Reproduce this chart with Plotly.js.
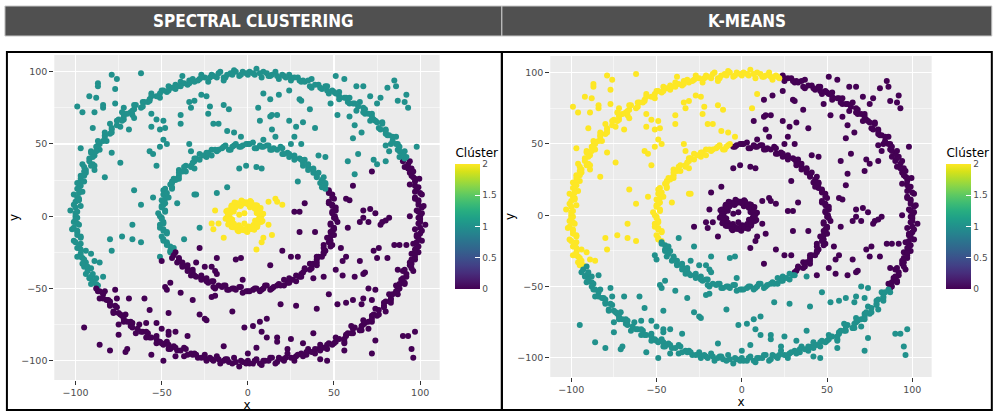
<!DOCTYPE html>
<html>
<head>
<meta charset="utf-8">
<script src="https://cdn.plot.ly/plotly-3.0.1.min.js"></script>
<style>
html,body{margin:0;padding:0;background:#fff;}
#chart{width:994px;height:412px;}
</style>
</head>
<body>
<div id="chart"></div>
<script>
// ---------- DATA ----------
const panelTitles = ["SPECTRAL CLUSTERING", "K-MEANS"];
const legendTitle = "Clúster";
const axisTicks = [-100, -50, 0, 50, 100];
const colorTicks = [0, 0.5, 1, 1.5, 2];
const colorTickText = ["0", "0.5", "1", "1.5", "2"];

// Outer ring (r ~ 100), split in arcs by the two clusterings
const outerArcA = [[87,-51],[86,-48],[91,-47],[89,-44],[92,-42],[90,-38],[96,-38],[94,-34],[94,-32],[97,-30],[95,-26],[99,-25],[98,-22],[96,-19],[101,-17],[98,-14],[100,-12],[97,-9],[103,-6],[100,-4],[99,-1],[101,2],[98,4],[102,7],[99,10],[97,12],[101,15],[97,17],[99,20],[94,22],[99.5,26],[96,27],[94,30],[95,33],[91,34],[94,38],
  [88,-50],[88,-47],[91,-46],[90,-43],[92,-40],[91,-37],[95,-36],[95,-33],[95,-30],[97,-28],[97,-26],[97,-23],[99,-21],[98,-18],[99,-15],[98,-13],[101,-10],[100,-8],[99,-5],[100,-2],[100,0],[99,3],[101,6],[99,8],[99,11],[97,13],[100,16],[98,19],[97,21],[97,24],[97,26],[95,28],[96,31],[93,33],[93,36],[90,38]];
const outerArcB = [[91,40],[88,41],[91,45],[87,46],[87,50],[83,50],[86,55],[82,56],[80,57],[80,60],[76,61],[78,65],[74,66],[71,66],[72,71],[68,71],[68,74],[63,73],[65,79],[61,78],[58,79],[57,82],[53,81],[53,86],[50,86],[47,85],[46,90],[43,88],[41,91],[37,89],[37,95],[33,93],[31,93],[29,96],[25,94],[24,98],
  [92,41],[90,43],[88,45],[88,48],[86,50],[84,52],[84,55],[81,56],[80,59],[77,60],[78,64],[75,65],[73,67],[72,69],[70,71],[67,72],[67,75],[64,76],[62,78],[59,78],[59,82],[56,82],[53,83],[51,85],[49,87],[46,87],[45,90],[42,89],[39,91],[36,90],[35,94],[32,94],[30,94],[27,96],[25,96]];
const outerArcC = [[21,97],[18,95],[16,100],[13,97],[11,99],[8,96],[5,102],[3,99],[0,98],[-3,100],[-5,97],[-8,101],[-10,99],[-13,96],[-16,100],[-18,96],[-21,98],[-23,93],[-27,98],[-28,95],[-31,93],[-34,94],[-35,91],[-39,93],[-41,90],[-42,88],[-46,90],[-47,86],[-50,87],[-51,82],[-56,85],[-57,81],[-58,79],[-61,79],[-62,75],[-66,77],[-67,73],[-67,70],[-72,71],[-72,67],[-75,67],[-74,62],[-80,64],[-79,60],[-80,57],[-83,56],[-82,52],[-87,52],[-87,49],[-86,46],[-91,45],[-89,42],[-92,40],[-90,36],[-96,36],[-94,32],[-94,30],[-97,28],[-95,24],[-99,23],[-98,20],[-96,17],[-101,15],[-98,12],[-100,10],[-97,7],[-103,4],[-100,2],[-99,-1],[-101,-4],[-98,-6],[-102,-9],[-99,-11],[-97,-14],[-101,-17],[-97,-19],[-99,-22],[-94,-24],[-99,-28],[-96,-29],[-94,-32],[-95,-35],
  [22,96],[20,98],[17,97],[14,98],[12,97],[9,100],[7,99],[4,98],[1,100],[-1,99],[-4,98],[-7,100],[-9,98],[-12,98],[-14,96],[-17,99],[-20,97],[-22,96],[-25,96],[-27,96],[-29,94],[-32,95],[-34,92],[-37,92],[-39,90],[-42,91],[-44,89],[-46,87],[-49,87],[-51,85],[-53,83],[-56,83],[-57,80],[-60,79],[-61,76],[-65,77],[-66,74],[-68,72],[-70,71],[-72,69],[-73,66],[-76,66],[-76,63],[-79,61],[-79,58],[-83,58],[-83,55],[-84,52],[-86,50],[-88,48],[-88,45],[-91,44],[-90,41],[-92,38],[-91,35],[-95,34],[-95,31],[-95,28],[-97,26],[-97,24],[-97,21],[-99,19],[-98,16],[-99,13],[-98,11],[-101,8],[-100,6],[-99,3],[-100,0],[-100,-2],[-99,-5],[-101,-8],[-99,-10],[-99,-13],[-97,-15],[-100,-18],[-98,-21],[-97,-23],[-97,-26],[-97,-28],[-95,-30],[-96,-33],[-93,-35]];
const outerArcD = [[-91,-36],[-94,-40],[-91,-42],[-88,-43],[-91,-47],[-87,-48],
  [-93,-38],[-90,-40],[-92,-43],[-90,-45],[-88,-47]];
const outerArcE = [[-87,-52],[-83,-52],[-86,-57],[-82,-58],[-80,-59],[-80,-62],[-76,-63],[-78,-67],[-74,-68],[-71,-68],[-72,-73],[-68,-73],[-68,-76],[-63,-75],[-65,-81],[-61,-80],[-58,-81],[-57,-84],[-53,-83],[-53,-88],[-50,-88],[-47,-87],[-46,-92],[-43,-90],[-41,-93],[-37,-91],[-37,-97],[-33,-95],[-31,-95],[-29,-98],[-25,-96],[-24,-100],[-21,-99],[-18,-97],[-16,-102],[-13,-99],[-11,-101],[-8,-98],[-5,-104],[-3,-101],[0,-100],[3,-102],[5,-99],[8,-103],[10,-100],[13,-98],[16,-102],[18,-98],[21,-100],[23,-95],[27,-100],[28,-97],[31,-95],[34,-96],[35,-92],[39,-95],[41,-92],[42,-89],[46,-92],[47,-88],[50,-88],[51,-84],[56,-87],[57,-83],[58,-81],[61,-81],[62,-77],[66,-79],[67,-75],[67,-72],[72,-73],[72,-69],[75,-69],[74,-64],[80,-66],[79,-62],[80,-59],[83,-58],[82,-54],[87,-54],
  [-88,-50],[-86,-52],[-84,-54],[-84,-57],[-81,-58],[-80,-61],[-77,-62],[-78,-66],[-75,-67],[-73,-69],[-72,-71],[-70,-73],[-67,-74],[-67,-77],[-64,-78],[-62,-80],[-59,-80],[-59,-84],[-56,-84],[-53,-85],[-51,-87],[-49,-89],[-46,-89],[-45,-92],[-42,-91],[-39,-93],[-36,-92],[-35,-96],[-32,-96],[-30,-96],[-27,-98],[-25,-98],[-22,-98],[-20,-100],[-17,-99],[-14,-100],[-12,-99],[-9,-102],[-7,-101],[-4,-100],[-1,-102],[1,-102],[4,-100],[7,-102],[9,-100],[12,-100],[14,-98],[17,-101],[20,-99],[22,-98],[25,-98],[27,-98],[29,-96],[32,-97],[34,-94],[37,-94],[39,-92],[42,-93],[44,-91],[46,-89],[49,-89],[51,-87],[53,-85],[56,-85],[57,-82],[60,-81],[61,-78],[65,-79],[66,-76],[68,-74],[70,-73],[72,-71],[73,-68],[76,-68],[76,-65],[79,-63],[79,-60],[83,-60],[83,-57],[84,-54],[86,-52]];

// Middle ring (r ~ 50)
const midArcA = [[31,-40],[33,-37],[36,-37],[36,-33],[40,-34],[40,-30],[41,-28],[44,-26],[45,-24],[44,-20],[49,-20],[48,-17],[48,-14],[48,-11],[50,-9],[48,-6],[52,-4],[50,-1],[49,2],[51,4],[49,7],[47,9],[50,12],[49,15],[47,17],
  [32,-39],[33,-36],[37,-36],[38,-33],[40,-32],[40,-28],[43,-28],[44,-25],[44,-22],[48,-21],[47,-18],[46,-15],[50,-13],[49,-10],[50,-8],[48,-5],[51,-2],[50.5,0],[49,3],[51,6],[49,8],[47,10],[49,13],[47,16],[47,18]];
const midArcB = [[45,19],[45,22],[42,23],[44,27],[40,28],[38,30],[38,33],[35,34],[32,35],[33,39],[30,40],[27,41],[24,41],[23,44],[20,43],[19,48],[15,47],[13,46],[11,49],[8,48],[5,47],[3,51],[0,50],[-3,49],[-5,48],
  [43,20],[45,23],[43,25],[40,27],[41,30],[38,32],[35,32],[35,36],[32,37],[31,39],[27,39],[27,42],[24,43],[21,43],[20,47],[17,46],[14,46],[12,49],[9,48],[7,49],[4,47],[1,50],[-1,50],[-4,48]];
const midArcC = [[-8,49],[-10,46],[-13,49],[-15,47],[-18,45],[-21,46],[-23,44],[-24,41],[-28,43],[-30,40],[-31,38],[-33,35],[-36,35],[-36,31],[-40,32],[-40,28],[-41,26],[-44,24],[-45,22],[-44,19],[-49,18],[-49,15],[-48,12],[-48,9],[-50,7],[-48,4],[-52,2],[-50,-1],[-49,-4],[-51,-6],[-49,-9],[-47,-11],[-50,-14],[-49,-17],
  [-7,50],[-9,48],[-11,46],[-14,48],[-17,46],[-19,46],[-21,42],[-24,44],[-26,42],[-28,39],[-31,40],[-32,37],[-33,34],[-37,34],[-38,31],[-40,30],[-40,26],[-43,26],[-44,23],[-44,20],[-48,19],[-47,16],[-46,13],[-50,11],[-49,8],[-50,6],[-48,3],[-51,0],[-50,-2],[-49,-5],[-51,-8],[-49,-10],[-47,-12],[-49,-16],[-47,-18]];
const midArcD = [[-47,-19],[-45,-21],[-45,-24],[-47,-20],[-43,-22],[-45,-25]];
const midArcE = [[-42,-25],[-44,-29],[-40,-30],[-38,-32],[-38,-35],[-35,-36],[-32,-37],[-33,-41],[-30,-42],[-27,-43],[-24,-43],[-23,-46],[-20,-45],[-19,-50],[-15,-49],[-13,-48],[-11,-51],[-8,-50],[-5,-49],[-3,-53],[0,-52],[3,-51],[5,-50],[8,-51],[10,-48],[13,-51],[15,-49],[18,-47],[21,-48],[23,-46],[24,-43],[28,-45],[30,-42],
  [-43,-27],[-40,-29],[-41,-32],[-38,-34],[-35,-34],[-35,-38],[-32,-39],[-31,-41],[-27,-41],[-27,-44],[-24,-45],[-21,-45],[-20,-49],[-17,-48],[-14,-48],[-12,-51],[-9,-50],[-7,-51],[-4,-49],[-1,-52],[1,-52],[4,-50],[7,-52],[9,-50],[11,-48],[14,-50],[17,-48],[19,-48],[21,-44],[24,-46],[26,-44],[28,-41],[31,-42]];

// Inner ring (r ~ 10)
const innerRing = [[7,0],[8.9,1.7],[5.1,2.3],[6.9,4.5],[4.9,5],[5.4,7.4],[3.3,7.3],[1.2,6.2],[1.4,10.5],[-0.5,9.4],[-2,9],[-3.7,10.9],[-4.3,7.1],[-6.5,8.9],[-7,6.9],[-9.4,7.4],[-9.3,5.3],[-8.2,3.2],[-12.5,3.4],[-11.4,1.5],[-11,0],[-12.9,-1.7],[-9.1,-2.3],[-10.9,-4.5],[-8.9,-5],[-9.4,-7.4],[-7.3,-7.3],[-5.2,-6.2],[-5.4,-10.5],[-3.5,-9.4],[-2,-9],[-0.3,-10.9],[0.3,-7.1],[2.5,-8.9],[3,-6.9],[5.4,-7.4],[5.3,-5.3],[4.2,-3.2],[8.5,-3.4],[7.4,-1.5],[8,0.8],[5.8,1.9],[6.8,3.6],[7.4,5.7],[4.1,5.2],[4.5,7.6],[2.7,7.7],[2,9.7],[0,8.3],[-1.3,9.5],[-2.8,10],[-3.9,7.8],[-5.6,8.8],[-7.7,9.4],[-7.2,6.1],[-9.6,6.5],[-9.7,4.7],[-11.7,4],[-10.3,2],[-11.5,0.7],[-12,-0.8],[-9.8,-1.9],[-10.8,-3.6],[-11.4,-5.7],[-8.1,-5.2],[-8.5,-7.6],[-6.7,-7.7],[-6,-9.7],[-4,-8.3],[-2.7,-9.5],[-1.2,-10],[-0.1,-7.8],[1.6,-8.8],[3.7,-9.4],[3.2,-6.1],[5.6,-6.5],[5.7,-4.7],[7.7,-4],[6.3,-2],[7.5,-0.7]];

// Scattered noise points, grouped by (spectral, k-means) cluster
const noiseUpperLeft = [[-79,98],[-76,95],[-62,99],[-87,92],[-87,90],[-77,88],[-92,83],[-88,82],[-99,76],[-96,72],[-84,77],[-84,75],[-89,72],[-77,78],[-72,75],[-73,72],[-66,68],[-69,60],[-90,61],[-97,47],[-79,44],[-74,37],[-89,35],[-89,32],[-83,27],[-66,18],[-62,8],[-56,71],[-53,67],[-49,66],[-56,62],[-51,60],[-48,61],[-49,53],[-47,50],[-51,48],[-57,45],[-55,43],[-53,35],[-55,13],[-39,64],[-39,70],[-34,79],[-31,80],[-33,75],[-27,84],[-24,83],[-22,76],[-23,71],[-20,64],[-17,64],[-12,59],[-8,58],[-4,55],[-14,77],[-11,74],[-14,94],[-34,50],[-33,45],[-31,33],[-42,25],[-41,9],[-31,15],[-30,15],[-67,-6],[-73,-14],[-67,-16],[-62,-18],[-80,-16],[-79,-24],[-91,-26],[-89,-31],[-86,-32],[9,85],[6,75],[-38,97]];
const noiseUpperRight = [[13,81],[18,84],[24,87],[30,81],[31,80],[7,66],[13,69],[14,70],[17,70],[24,66],[28,62],[32,65],[36,74],[39,61],[14,60],[16,55],[25,50],[27,55],[31,50],[41,42],[45,41],[51,97],[56,95],[48,78],[52,70],[59,69],[62,63],[66,58],[61,54],[64,43],[58,38],[62,29],[63,90],[67,90],[71,83],[77,82],[75,78],[81,89],[85,94],[86,90],[87,80],[92,84],[91,79],[93,75],[73,39],[75,36],[80,38],[80,49],[82,45],[98,48],[29,24],[9,53],[-18,16],[-12,20],[-5,33],[-1,35],[5,34],[8,33],[-28,-8]];
const noiseLeftBorder = [[-84,-42],[-37,-16],[-51,-28]];
const noiseRight = [[72,31],[61,21],[57,12],[59,11],[67,4],[71,5],[74,2],[82,-1],[94,0],[33,9],[27,3],[30,3],[30,-11],[39,-11],[20,-24],[25,-28],[29,-28],[13,-34],[44,-42],[54,-22],[55,-31],[57,-28],[51,-37],[55,-41],[62,-42],[65,-31],[67,-40],[68,-39],[73,-24],[76,-22],[75,-29],[81,-29],[85,-20],[88,-20],[92,-20],[87,-37],[65,-4],[67,-1],[70,-4],[78,-4],[80,-3],[58,-8],[77,-6]];
const noiseLower = [[38,-43],[40,-64],[19,-61],[28,-62],[7,-73],[3,-76],[11,-71],[8,-80],[11,-84],[17,-84],[17,-87],[25,-85],[32,-88],[38,-81],[23,-92],[5,-91],[0,-95],[42,-99],[46,-100],[60,-76],[65,-79],[70,-78],[74,-86],[72,-95],[56,-88],[56,-93],[90,-83],[93,-83],[97,-80],[95,-92],[96,-98],[47,-54],[52,-61],[57,-60],[61,-58],[66,-61],[67,-57],[72,-58],[70,-50],[74,-51],[-3,-44],[-7,-30],[-4,-29],[-18,-29],[-28,-22],[-50,-31],[-30,-32],[-25,-35],[-21,-35],[-19,-38],[-18,-40],[-77,-51],[-76,-57],[-69,-57],[-60,-57],[-48,-49],[-45,-46],[-47,-51],[-39,-53],[-32,-58],[-21,-56],[-19,-55],[-57,-65],[-46,-67],[-28,-68],[-25,-71],[-24,-72],[-9,-66],[-2,-77],[-95,-77],[-75,-75],[-75,-82],[-59,-74],[-53,-74],[-50,-78],[-46,-80],[-46,-82],[-42,-80],[-35,-83],[-86,-89],[-80,-93],[-71,-94],[-70,-92],[-56,-96],[-49,-100],[-42,-97],[-14,-90]];
const noiseCenter = [[-19,4],[-21,-5],[-17,-5],[-20,-9],[-14,-15],[12,10],[16,12],[17,10],[20,8],[12,-6],[14,-13],[9,-15],[8,-18],[5,-23],[-5,1],[-2,2],[-2,-5]];

// [points, spectral cluster, k-means cluster]
const groups = [
  [outerArcA, 0, 0], [outerArcB, 1, 0], [outerArcC, 1, 2], [outerArcD, 1, 1], [outerArcE, 0, 1],
  [midArcA, 0, 0], [midArcB, 1, 0], [midArcC, 1, 2], [midArcD, 1, 1], [midArcE, 0, 1],
  [innerRing, 2, 0],
  [noiseUpperLeft, 1, 2], [noiseUpperRight, 1, 0], [noiseLeftBorder, 1, 1],
  [noiseRight, 0, 0], [noiseLower, 0, 1], [noiseCenter, 2, 0]
];

// ---------- BUILD ----------
const X = [], Y = [], SPEC = [], KM = [];
groups.forEach(([pts, s, k]) => {
  pts.forEach(p => { X.push(p[0]); Y.push(p[1]); SPEC.push(s); KM.push(k); });
});

const W = 994, H = 412;
const px = v => v / W;
const py = v => 1 - v / H;

const tickFont = {family: "DejaVu Sans, sans-serif", size: 9.5, color: "#4D4D4D"};
const titleFont = {family: "DejaVu Sans, sans-serif", size: 12, color: "#000"};
const minorGrid = {showgrid: true, gridcolor: "#fff", gridwidth: 0.5, tickvals: [-75, -25, 25, 75]};

function xAxis(domain, anchor) {
  return {
    domain: domain, anchor: anchor, range: [-112.3, 111.3], tickmode: "array", tickvals: axisTicks,
    ticks: "outside", ticklen: 4, tickwidth: 1, tickcolor: "#333",
    showgrid: true, gridcolor: "#fff", gridwidth: 1.1, zeroline: false, showline: false,
    minor: minorGrid, tickfont: tickFont,
    title: {text: "x", font: titleFont, standoff: 3}, fixedrange: true
  };
}
function yAxis(domain, anchor) {
  return {
    domain: domain, anchor: anchor, range: [-113.4, 111.6], tickmode: "array", tickvals: axisTicks,
    ticks: "outside", ticklen: 4, tickwidth: 1, tickcolor: "#333",
    showgrid: true, gridcolor: "#fff", gridwidth: 1.1, zeroline: false, showline: false,
    minor: minorGrid, tickfont: tickFont,
    title: {text: "y", font: titleFont, standoff: 0}, fixedrange: true
  };
}
function colorAxis(xLeft) {
  return {
    cmin: 0, cmax: 2, colorscale: "Viridis", showscale: true,
    colorbar: {
      x: px(xLeft), xanchor: "left", y: py(217), yanchor: "middle",
      len: 144 / H, lenmode: "fraction", thickness: 25, thicknessmode: "pixels",
      xpad: 0, ypad: 0, outlinewidth: 0,
      tickmode: "array", tickvals: colorTicks, ticktext: colorTickText,
      ticks: "inside", ticklen: 5, tickwidth: 1, tickcolor: "#fff",
      tickfont: {family: "DejaVu Sans, sans-serif", size: 9, color: "#4D4D4D"},
      title: {text: legendTitle, side: "top", font: titleFont}
    }
  };
}

const traces = [
  {type: "scatter", mode: "markers", x: X, y: Y, xaxis: "x", yaxis: "y",
   marker: {color: SPEC, coloraxis: "coloraxis", size: 6, line: {width: 0}}, hoverinfo: "skip"},
  {type: "scatter", mode: "markers", x: X, y: Y, xaxis: "x2", yaxis: "y2",
   marker: {color: KM, coloraxis: "coloraxis2", size: 6, line: {width: 0}}, hoverinfo: "skip"}
];

const headerFont = {family: "Liberation Sans Narrow, DejaVu Sans Condensed, Arial Narrow, sans-serif", size: 17, color: "#fff"};

const layout = {
  width: W, height: H, autosize: false,
  margin: {l: 0, r: 0, t: 0, b: 0, pad: 0},
  paper_bgcolor: "#fff", plot_bgcolor: "#EBEBEB",
  showlegend: false,
  xaxis: xAxis([px(55), px(445)], "y"),
  yaxis: yAxis([1 - 380 / H, 1 - 55 / H], "x"),
  xaxis2: xAxis([px(557), px(943)], "y2"),
  yaxis2: yAxis([1 - 377 / H, 1 - 56 / H], "x2"),
  coloraxis: colorAxis(461),
  coloraxis2: colorAxis(958),
  shapes: [
    {type: "rect", xref: "paper", yref: "paper", x0: px(5), x1: px(508), y0: py(36), y1: py(6),
     fillcolor: "#505050", line: {color: "#c8c8c8", width: 1}},
    {type: "rect", xref: "paper", yref: "paper", x0: px(508), x1: 1.01, y0: py(36), y1: py(6),
     fillcolor: "#505050", line: {color: "#c8c8c8", width: 1}},
    {type: "rect", xref: "paper", yref: "paper", x0: px(7), x1: px(508), y0: py(410), y1: py(52),
     line: {color: "#000", width: 2}},
    {type: "rect", xref: "paper", yref: "paper", x0: px(508), x1: 1.01, y0: py(410), y1: py(52),
     line: {color: "#000", width: 2}}
  ],
  annotations: [
    {xref: "paper", yref: "paper", x: px(257), y: py(21), text: "<b>" + panelTitles[0] + "</b>",
     showarrow: false, xanchor: "center", yanchor: "middle", font: headerFont},
    {xref: "paper", yref: "paper", x: px(756), y: py(21), text: "<b>" + panelTitles[1] + "</b>",
     showarrow: false, xanchor: "center", yanchor: "middle", font: headerFont}
  ]
};

Plotly.newPlot("chart", traces, layout, {displayModeBar: false, staticPlot: true});
</script>
</body>
</html>
